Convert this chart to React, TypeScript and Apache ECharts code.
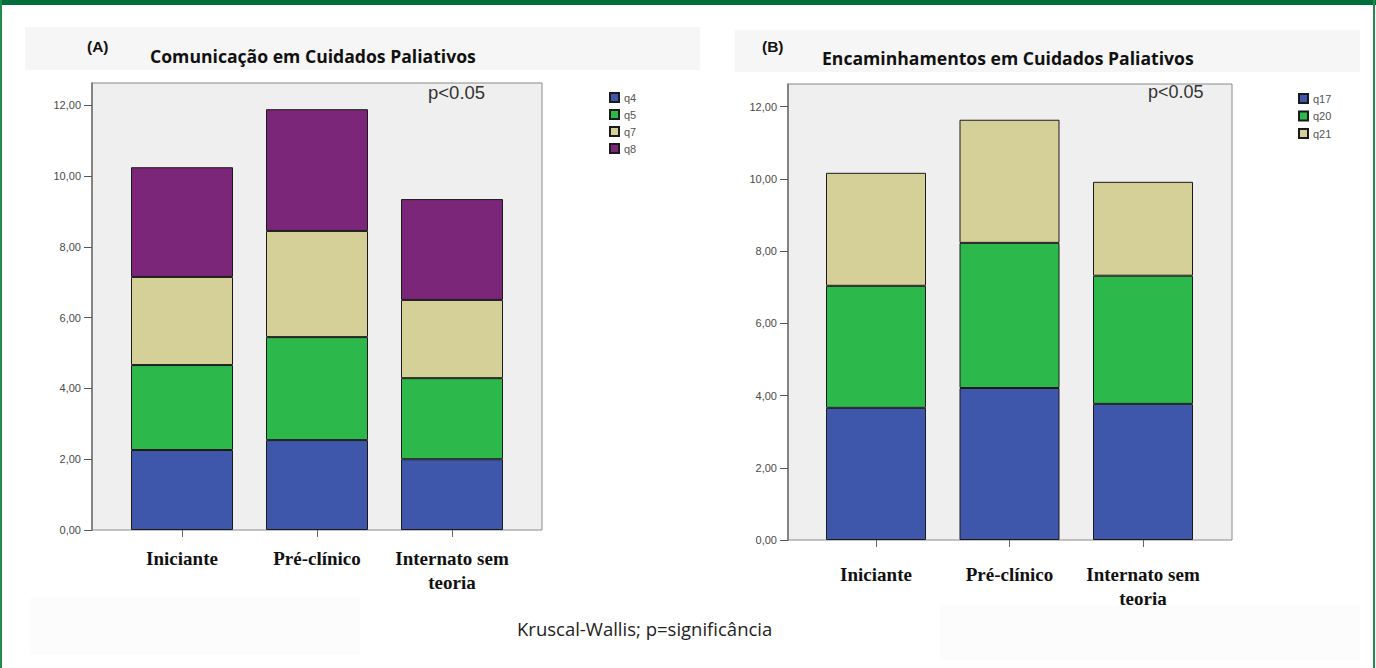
import React, { useEffect, useRef } from "react";
import * as echarts from "echarts";

const categories = ["Iniciante", "Pré-clínico", "Internato sem\nteoria"];
const yTicks = [0, 2, 4, 6, 8, 10, 12];

// Chart A – Comunicação em Cuidados Paliativos (stack segments)
const seriesA = ["q4", "q5", "q7", "q8"];
const q4 = [2.26, 2.54, 2.0];
const q5 = [2.4, 2.91, 2.29];
const q7 = [2.49, 3.0, 2.21];
const q8 = [3.1, 3.44, 2.85];

// Chart B – Encaminhamentos em Cuidados Paliativos (stack segments)
const seriesB = ["q17", "q20", "q21"];
const q17 = [3.66, 4.21, 3.77];
const q20 = [3.38, 4.02, 3.55];
const q21 = [3.13, 3.41, 2.6];

const colors: Record<string, string> = {
  q4: "#3F57AB",
  q5: "#2DB84B",
  q7: "#D5D098",
  q8: "#7B2679",
  q17: "#3F57AB",
  q20: "#2DB84B",
  q21: "#D5D098",
};

const fmt = (v: number) => v.toFixed(2).replace(".", ",");

export default function App() {
  const ref = useRef<HTMLDivElement>(null);
  useEffect(() => {
    document.body.style.margin = "0";
    if (!ref.current) return;
    const chart = echarts.init(ref.current, null, { renderer: "svg" });
    const yMax = 12.63;
    const tickFont = { fontFamily: "Liberation Sans", fontSize: 11, color: "#4a4a4a" };
    const catLabel = (margin: number) => ({
      fontFamily: "Liberation Serif",
      fontWeight: "bold" as const,
      fontSize: 19,
      lineHeight: 24,
      color: "#111",
      margin,
      interval: 0,
    });
    const valAxis = (grid: number, show: boolean) => ({
      type: "value" as const,
      gridIndex: grid,
      min: 0,
      max: yMax,
      show,
      splitLine: { show: false },
      axisLine: { show: true, lineStyle: { color: "#6f6f6f", width: 1.5 } },
      axisTick: {
        show: true,
        length: 8,
        lineStyle: { color: "#555" },
        customValues: yTicks,
      },
      axisLabel: {
        ...tickFont,
        margin: 11,
        customValues: yTicks,
        formatter: (v: number) => fmt(v),
      },
    });
    const hiddenX = (grid: number) => ({
      type: "value" as const,
      gridIndex: grid,
      min: 0,
      max: 1,
      show: false,
    });
    const catAxis = (grid: number, margin: number) => ({
      type: "category" as const,
      gridIndex: grid,
      data: categories,
      axisLine: { show: false },
      axisTick: {
        show: true,
        alignWithLabel: true,
        length: 7,
        lineStyle: { color: "#666" },
      },
      axisLabel: catLabel(margin),
    });
    const mkSeries = (
      name: string,
      data: number[],
      stack: string,
      axisIdx: number,
      width: number
    ) => ({
      type: "bar" as const,
      name,
      data,
      stack,
      xAxisIndex: axisIdx,
      yAxisIndex: axisIdx,
      barWidth: width,
      itemStyle: { color: colors[name], borderColor: "#1a1a1a", borderWidth: 1 },
    });
    const legendText = { fontFamily: "Liberation Sans", fontSize: 11, color: "#555" };

    chart.setOption({
      animation: false,
      grid: [
        {
          left: 92,
          top: 83,
          width: 450,
          height: 447,
          show: true,
          backgroundColor: "#efefef",
          borderColor: "#8a8a8a",
          borderWidth: 1,
        },
        { left: 114.5, top: 83, width: 405, height: 447 },
        {
          left: 788,
          top: 84,
          width: 444,
          height: 456,
          show: true,
          backgroundColor: "#efefef",
          borderColor: "#8a8a8a",
          borderWidth: 1,
        },
        { left: 809.25, top: 84, width: 400.5, height: 456 },
      ],
      xAxis: [hiddenX(0), catAxis(1, 16), hiddenX(2), catAxis(3, 22)],
      yAxis: [valAxis(0, true), valAxis(1, false), valAxis(2, true), valAxis(3, false)],
      legend: [
        {
          data: seriesA,
          orient: "vertical",
          left: 604,
          top: 87,
          itemWidth: 9,
          itemHeight: 9,
          itemGap: 6,
          icon: "rect",
          textStyle: legendText,
        },
        {
          data: seriesB,
          orient: "vertical",
          left: 1293,
          top: 88,
          itemWidth: 9,
          itemHeight: 9,
          itemGap: 6.5,
          icon: "rect",
          textStyle: legendText,
        },
      ],
      series: [
        mkSeries("q4", q4, "a", 1, 102),
        mkSeries("q5", q5, "a", 1, 102),
        mkSeries("q7", q7, "a", 1, 102),
        mkSeries("q8", q8, "a", 1, 102),
        mkSeries("q17", q17, "b", 3, 100),
        mkSeries("q20", q20, "b", 3, 100),
        mkSeries("q21", q21, "b", 3, 100),
      ],
      graphic: [
        { type: "rect", z: -10, shape: { x: 25, y: 27, width: 675, height: 43 }, style: { fill: "#f6f6f6" } },
        { type: "rect", z: -10, shape: { x: 735, y: 30, width: 625, height: 42 }, style: { fill: "#f6f6f6" } },
        { type: "rect", z: -10, shape: { x: 30, y: 598, width: 330, height: 57 }, style: { fill: "#fcfcfc" } },
        { type: "rect", z: -10, shape: { x: 940, y: 605, width: 420, height: 55 }, style: { fill: "#fcfcfc" } },
        { type: "rect", z: 10, shape: { x: 0, y: 0, width: 1376, height: 5 }, style: { fill: "#006E3A" } },
        { type: "rect", z: 10, shape: { x: 0, y: 0, width: 2, height: 668 }, style: { fill: "#1f8a4c" } },
        { type: "rect", z: 10, shape: { x: 1373, y: 0, width: 2, height: 668 }, style: { fill: "#1f8a4c" } },
        {
          type: "text",
          x: 87,
          y: 38,
          style: { text: "(A)", fontFamily: "Liberation Sans", fontWeight: "bold", fontSize: 15.5, fill: "#111" },
        },
        {
          type: "text",
          x: 150,
          y: 47,
          style: {
            text: "Comunicação em Cuidados Paliativos",
            fontFamily: "Open Sans",
            fontWeight: "bold",
            fontSize: 17.6,
            fill: "#111",
          },
        },
        {
          type: "text",
          x: 762,
          y: 38,
          style: { text: "(B)", fontFamily: "Liberation Sans", fontWeight: "bold", fontSize: 15.5, fill: "#111" },
        },
        {
          type: "text",
          x: 822,
          y: 49,
          style: {
            text: "Encaminhamentos em Cuidados Paliativos",
            fontFamily: "Open Sans",
            fontWeight: "bold",
            fontSize: 17.6,
            fill: "#111",
          },
        },
        {
          type: "text",
          x: 428,
          y: 83,
          style: { text: "p<0.05", fontFamily: "Liberation Sans", fontSize: 18.5, fill: "#333" },
        },
        {
          type: "text",
          x: 1148,
          y: 83,
          style: { text: "p<0.05", fontFamily: "Liberation Sans", fontSize: 18, fill: "#333" },
        },
        {
          type: "text",
          x: 517,
          y: 619,
          style: {
            text: "Kruscal-Wallis; p=significância",
            fontFamily: "Open Sans",
            fontSize: 18.5,
            fill: "#222",
          },
        },
      ],
    });
    return () => chart.dispose();
  }, []);
  return <div ref={ref} style={{ width: 1376, height: 668, background: "#fff" }} />;
}
